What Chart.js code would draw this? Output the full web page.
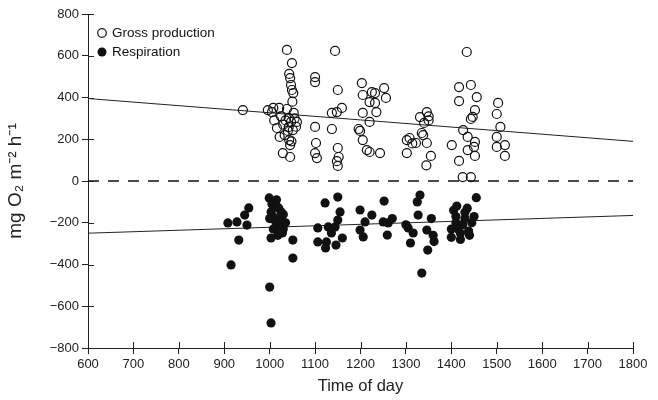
<!DOCTYPE html>
<html><head><meta charset="utf-8">
<script src="https://cdn.jsdelivr.net/npm/chart.js@4/dist/chart.umd.min.js"></script>
<style>html,body{margin:0;padding:0;background:#fff}#wrap{width:658px;height:400px;position:relative}</style>
</head><body><div id="wrap"><canvas id="c" width="658" height="400"></canvas></div>
<script>
// Gross production: time of day, value (mg O2 m-2 h-1)
const grossTime = [941,996,1021,1038,1049,1043,1045,1047,1049,1052,1053,1060,1042,1047,1016,1042,1051,1022,1043,1045,1029,1045,
  1030,1035,1040,1055,1033,1048,1058,1025,1038,1050,1005,1010,1008,
  1100,1100,1100,1102,1100,1104,1144,1150,1159,1148,1137,1137,1150,1152,1150,1148,
  1203,1205,1225,1232,1252,1256,1220,1232,1235,1205,1220,1196,1205,1214,1220,1243,1199,
  1302,1308,1314,1331,1346,1340,1302,1322,1338,1346,1355,1350,1350,1335,1345,
  1434,1417,1443,1417,1456,1452,1447,1443,1503,1500,1508,1426,1436,1452,1450,1436,1452,1401,1417,1425,1443,1500,1500,1518,1518];
const grossValue = [340,340,350,628,565,513,493,460,436,421,326,283,302,283,254,259,244,211,196,172,134,115,
  270,290,240,300,220,190,260,310,345,380,330,290,350,
  498,474,259,182,134,110,623,436,350,330,326,249,158,115,72,95,
  469,412,426,421,445,398,378,374,330,326,283,249,196,148,139,134,240,
  196,206,180,306,330,278,134,182,220,182,120,310,290,230,75,
  618,450,460,383,402,340,307,297,374,321,259,244,211,187,163,148,120,172,96,19,19,211,163,172,120];
// Respiration
const respTime = [954,945,908,928,950,932,915,999,1010,1017,1025,1003,1025,1008,1020,1012,1028,1003,1051,1051,1000,1003,1106,1106,
  1005,1015,1020,1030,1012,1022,1008,1018,1030,1000,1035,
  1122,1150,1155,1129,1144,1150,1136,1125,1123,1146,1160,1199,1225,1210,1199,1206,1252,1250,1261,1259,1270,
  1331,1325,1327,1305,1316,1310,1335,1348,1346,1356,1360,1362,1300,
  1405,1410,1410,1415,1420,1420,1425,1430,1430,1435,1440,1445,1450,1455,1400,1400,1412,1438];
const respValue = [-129,-163,-201,-196,-211,-283,-402,-81,-100,-125,-148,-148,-172,-172,-201,-225,-249,-273,-283,-369,-508,-680,-225,-292,
  -110,-90,-130,-160,-190,-210,-230,-260,-230,-180,-200,
  -105,-77,-148,-220,-220,-187,-249,-292,-321,-307,-273,-139,-163,-196,-235,-268,-96,-196,-201,-259,-180,
  -67,-100,-163,-225,-249,-297,-441,-331,-235,-180,-260,-290,-210,
  -140,-170,-200,-230,-250,-280,-210,-180,-150,-130,-260,-200,-170,-80,-230,-270,-120,-240];
// Regression lines (endpoints at axis limits)
const grossFitTime = [600,1800], grossFitValue = [395,190];
const respFitTime = [600,1800], respFitValue = [-250,-165];
const zeroTime = [600,1800], zeroValue = [0,0];
const xTicks = [600,700,800,900,1000,1100,1200,1300,1400,1500,1600,1700,1800];
const yTicks = [-800,-600,-400,-200,0,200,400,600,800];
const seriesNames = ['Gross production','Respiration'];

const pts = (xs, ys) => xs.map((x,i)=>({x:x,y:ys[i]}));
const FONT = "'Liberation Sans', Arial, Helvetica, sans-serif";

const innerTicks = {
  id:'innerTicks',
  afterDraw(chart){
    const ctx = chart.ctx, xs = chart.scales.x, ys = chart.scales.y, a = chart.chartArea;
    ctx.save(); ctx.strokeStyle='#222'; ctx.lineWidth=1;
    xTicks.forEach(v=>{const p=Math.round(xs.getPixelForValue(v))+0.5; ctx.beginPath(); ctx.moveTo(p,a.bottom); ctx.lineTo(p,a.bottom-6); ctx.stroke();});
    yTicks.forEach(v=>{const p=Math.round(ys.getPixelForValue(v))+0.5; ctx.beginPath(); ctx.moveTo(a.left,p); ctx.lineTo(a.left+6,p); ctx.stroke();});
    // legend
    ctx.font = '13.5px '+FONT; ctx.fillStyle='#111'; ctx.textBaseline='middle';
    const lx = a.left+14, l1 = a.top+19, l2 = a.top+38;
    ctx.beginPath(); ctx.arc(lx,l1,4.3,0,Math.PI*2); ctx.lineWidth=1.3; ctx.stroke();
    ctx.beginPath(); ctx.arc(lx,l2,4.5,0,Math.PI*2); ctx.fill();
    ctx.fillText(seriesNames[0], lx+10, l1);
    ctx.fillText(seriesNames[1], lx+10, l2);
    ctx.restore();
  }
};

new Chart(document.getElementById('c'), {
  type:'scatter',
  data:{datasets:[
    {label:'zero', type:'line', data:pts(zeroTime,zeroValue), borderColor:'#111', borderWidth:1.3, borderDash:[11,9], pointRadius:0, order:3},
    {label:'gross fit', type:'line', data:pts(grossFitTime,grossFitValue), borderColor:'#222', borderWidth:1, pointRadius:0, order:3},
    {label:'resp fit', type:'line', data:pts(respFitTime,respFitValue), borderColor:'#222', borderWidth:1, pointRadius:0, order:3},
    {label:seriesNames[0], data:pts(grossTime,grossValue), pointRadius:4.5, pointBorderWidth:1.2, borderColor:'#111', backgroundColor:'rgba(255,255,255,0)', order:1},
    {label:seriesNames[1], data:pts(respTime,respValue), pointRadius:4.6, pointBorderWidth:0, borderColor:'#111', backgroundColor:'#111', order:2}
  ]},
  options:{
    responsive:false, animation:false, devicePixelRatio:1,
    layout:{padding:{top:14,right:25,left:0,bottom:0}},
    plugins:{legend:{display:false}, tooltip:{enabled:false}},
    scales:{
      x:{type:'linear', min:600, max:1800,
        afterFit(s){s.height=52;},
        afterBuildTicks(s){s.ticks = xTicks.map(v=>({value:v}));},
        border:{display:true,color:'#222',width:1},
        grid:{drawOnChartArea:false, drawTicks:true, tickLength:6, color:'#222'},
        ticks:{color:'#222', font:{family:FONT,size:13}, padding:3, maxRotation:0, autoSkip:false, callback:v=>String(v)},
        title:{display:true, text:'Time of day', color:'#222', font:{family:FONT,size:16.5}, padding:{top:1}}
      },
      y:{type:'linear', min:-800, max:800,
        afterFit(s){s.width=88;},
        afterBuildTicks(s){s.ticks = yTicks.map(v=>({value:v}));},
        border:{display:true,color:'#222',width:1},
        grid:{drawOnChartArea:false, drawTicks:true, tickLength:6, color:'#222'},
        ticks:{color:'#222', font:{family:FONT,size:13}, padding:3, callback:v=>(v<0?'\u2212'+Math.abs(v):String(v))},
        title:{display:true, text:'mg O\u2082 m\u207B\u00B2 h\u207B\u00B9', color:'#222', font:{family:FONT,size:19}, padding:{bottom:2}}
      }
    }
  },
  plugins:[innerTicks]
});
</script></body></html>
